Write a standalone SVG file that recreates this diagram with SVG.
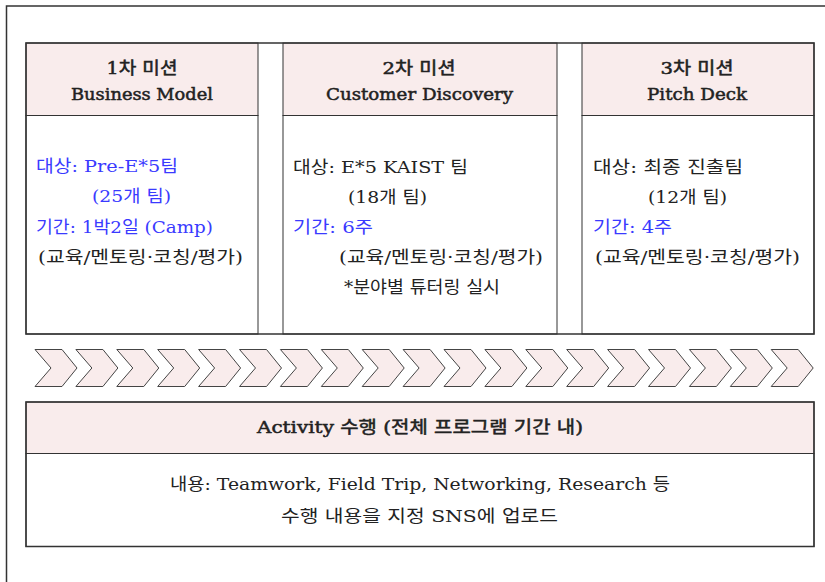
<svg xmlns="http://www.w3.org/2000/svg" width="825" height="582" viewBox="0 0 825 582">
<defs>
<style>
.t{font-family:"DejaVu Serif","Noto Sans CJK KR",serif;font-size:17px;fill:#222}
.b{fill:#3a3aff}
.h{stroke:#222;stroke-width:0.5}
.hd{fill:#f9ecec;stroke:#333;stroke-width:1}
.bd{fill:#fff;stroke:#333;stroke-width:1}
.ln{stroke:#333;stroke-width:1.5;fill:none}
.ch{fill:#f9ecec;stroke:#444;stroke-width:1;stroke-linejoin:miter}
</style>
<path id="chev" d="M0,0 H27 L42,18.5 L27,37 H0 L16,18.5 Z"/>
</defs>
<rect width="825" height="582" fill="#fff"/>
<path class="ln" d="M6.5,582 V6 H825"/>

<g id="mission1">
<rect class="hd" x="26" y="43" width="232" height="72.5"/>
<rect class="bd" x="26" y="115.5" width="232" height="218.5"/>
<text class="t h" x="142" y="74" text-anchor="middle" textLength="71" lengthAdjust="spacingAndGlyphs">1차 미션</text>
<text class="t h" x="142" y="100" text-anchor="middle" textLength="142" lengthAdjust="spacingAndGlyphs">Business Model</text>
<text class="t b" x="36" y="172" textLength="142" lengthAdjust="spacingAndGlyphs">대상: Pre-E*5팀</text>
<text class="t b" x="92" y="202" textLength="79" lengthAdjust="spacingAndGlyphs">(25개 팀)</text>
<text class="t b" x="36" y="233" textLength="177" lengthAdjust="spacingAndGlyphs">기간: 1박2일 (Camp)</text>
<text class="t" x="38" y="263" textLength="205" lengthAdjust="spacingAndGlyphs">(교육/멘토링·코칭/평가)</text>
</g>

<g id="mission2">
<rect class="hd" x="283" y="43" width="274" height="72.5"/>
<rect class="bd" x="283" y="115.5" width="274" height="218.5"/>
<text class="t h" x="419" y="74" text-anchor="middle" textLength="73" lengthAdjust="spacingAndGlyphs">2차 미션</text>
<text class="t h" x="419.5" y="100" text-anchor="middle" textLength="187" lengthAdjust="spacingAndGlyphs">Customer Discovery</text>
<text class="t" x="293" y="173" textLength="175" lengthAdjust="spacingAndGlyphs">대상: E*5 KAIST 팀</text>
<text class="t" x="348" y="203" textLength="79" lengthAdjust="spacingAndGlyphs">(18개 팀)</text>
<text class="t b" x="293" y="233" textLength="80" lengthAdjust="spacingAndGlyphs">기간: 6주</text>
<text class="t" x="339" y="263" textLength="204" lengthAdjust="spacingAndGlyphs">(교육/멘토링·코칭/평가)</text>
<text class="t" x="344" y="293" textLength="156" lengthAdjust="spacingAndGlyphs">*분야별 튜터링 실시</text>
</g>

<g id="mission3">
<rect class="hd" x="582" y="43" width="232" height="72.5"/>
<rect class="bd" x="582" y="115.5" width="232" height="218.5"/>
<text class="t h" x="697" y="74" text-anchor="middle" textLength="73" lengthAdjust="spacingAndGlyphs">3차 미션</text>
<text class="t h" x="697" y="100" text-anchor="middle" textLength="100" lengthAdjust="spacingAndGlyphs">Pitch Deck</text>
<text class="t" x="593" y="173" textLength="150" lengthAdjust="spacingAndGlyphs">대상: 최종 진출팀</text>
<text class="t" x="648" y="203" textLength="79" lengthAdjust="spacingAndGlyphs">(12개 팀)</text>
<text class="t b" x="593" y="233" textLength="79" lengthAdjust="spacingAndGlyphs">기간: 4주</text>
<text class="t" x="595" y="263" textLength="205" lengthAdjust="spacingAndGlyphs">(교육/멘토링·코칭/평가)</text>
</g>

<path class="ln" d="M26,43 H814 V334 H26 Z"/>

<g id="connectors">
<use href="#chev" class="ch" x="35" y="349.5"/>
<use href="#chev" class="ch" x="75.9" y="349.5"/>
<use href="#chev" class="ch" x="116.8" y="349.5"/>
<use href="#chev" class="ch" x="157.7" y="349.5"/>
<use href="#chev" class="ch" x="198.6" y="349.5"/>
<use href="#chev" class="ch" x="239.5" y="349.5"/>
<use href="#chev" class="ch" x="280.4" y="349.5"/>
<use href="#chev" class="ch" x="321.3" y="349.5"/>
<use href="#chev" class="ch" x="362.2" y="349.5"/>
<use href="#chev" class="ch" x="403.1" y="349.5"/>
<use href="#chev" class="ch" x="444" y="349.5"/>
<use href="#chev" class="ch" x="484.9" y="349.5"/>
<use href="#chev" class="ch" x="525.8" y="349.5"/>
<use href="#chev" class="ch" x="566.7" y="349.5"/>
<use href="#chev" class="ch" x="607.6" y="349.5"/>
<use href="#chev" class="ch" x="648.5" y="349.5"/>
<use href="#chev" class="ch" x="689.4" y="349.5"/>
<use href="#chev" class="ch" x="730.3" y="349.5"/>
<use href="#chev" class="ch" x="771.2" y="349.5"/>
</g>

<g id="activity">
<rect class="hd" x="26" y="402" width="788" height="51.5"/>
<rect class="bd" x="26" y="453.5" width="788" height="93"/>
<path class="ln" d="M26,402 H814 V546.5 H26 Z"/>
<text class="t h" x="257" y="433" textLength="326" lengthAdjust="spacingAndGlyphs">Activity 수행 (전체 프로그램 기간 내)</text>
<text class="t" x="420" y="490" text-anchor="middle" textLength="500" lengthAdjust="spacingAndGlyphs">내용: Teamwork, Field Trip, Networking, Research 등</text>
<text class="t" x="419.5" y="522" text-anchor="middle" textLength="277" lengthAdjust="spacingAndGlyphs">수행 내용을 지정 SNS에 업로드</text>
</g>
</svg>
